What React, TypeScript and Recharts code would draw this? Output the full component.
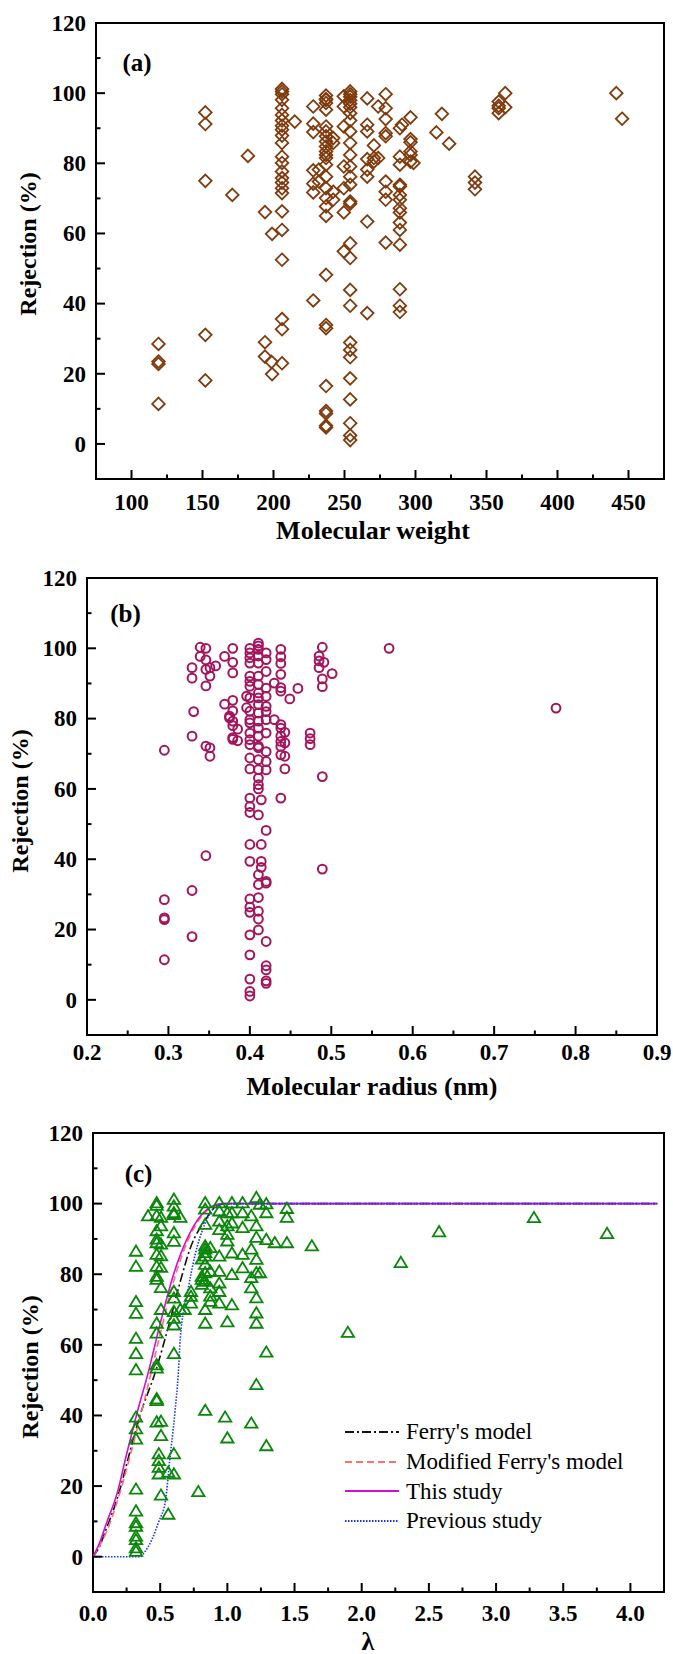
import { ComposedChart, Scatter, Line, XAxis, YAxis, ReferenceArea } from "recharts";

const FONT = '"Liberation Serif", "Times New Roman", serif';

// rejection axis, shared by the three panels
const rejDomain: [number, number] = [-10, 120];
const rejTicks = [0, 10, 20, 30, 40, 50, 60, 70, 80, 90, 100, 110, 120];
const rejMajors = [0, 20, 40, 60, 80, 100, 120];

// (a) molecular weight
const mwDomain: [number, number] = [75, 475];
const mwTicks = [100, 125, 150, 175, 200, 225, 250, 275, 300, 325, 350, 375, 400, 425, 450];
const mwMajors = [100, 150, 200, 250, 300, 350, 400, 450];
const mwRows: [number, number[]][] = [
  [119, [28.5, 23.5, 22.8, 11.4]],
  [152, [94.5, 91.2, 75.0, 31.1, 18.1]],
  [171, [71.0]],
  [182, [82.1]],
  [194, [66.1, 29.0, 24.9]],
  [198.6, [23.4]],
  [199, [59.9, 19.9]],
  [206, [101.2, 100.5, 99.7, 98.1, 95.7, 93.8, 92.2, 90.7, 89.6, 87.9, 85.8, 81.9, 80.1, 77.7, 75.8, 74.5, 72.9, 71.5, 66.3, 61.0, 52.5, 35.6, 32.7, 23.0]],
  [215, [91.9]],
  [228, [96.2, 91.3, 88.9, 78.0, 74.2, 71.7, 40.9]],
  [232, [78.2, 74.8]],
  [237, [99.3, 98.3, 98.1, 97.2, 95.3, 90.5, 89.1, 87.7, 86.2, 84.8, 83.4, 82.4, 81.5, 79.6, 76.2, 72.9, 70.1, 67.7, 65.0, 48.2, 33.9, 33.0, 16.5, 9.4, 8.7, 5.2, 4.7]],
  [242, [87.2, 85.8, 71.9, 69.6]],
  [249.5, [99.1, 96.2, 90.5, 79.1, 72.9, 66.0, 54.9]],
  [254, [100.5, 99.7, 99.0, 98.0, 97.0, 96.0, 94.3, 92.2, 89.1, 85.8, 82.4, 79.1, 76.2, 73.9, 69.1, 68.5, 57.2, 53.0, 43.9, 39.4, 28.9, 26.8, 24.7, 18.7, 12.7, 5.9, 2.4, 1.1]],
  [266, [98.5, 91.0, 89.1, 81.2, 78.2, 76.2, 63.4, 37.3]],
  [270.7, [85.1, 81.5, 80.5]],
  [273.7, [96.2, 81.5]],
  [279, [99.7, 95.7, 92.6, 88.6, 87.7, 74.8, 71.9, 69.6, 57.4]],
  [289, [90.0, 81.9, 79.6, 73.9, 73.4, 71.0, 69.6, 67.2, 66.0, 63.1, 61.0, 56.8, 44.1, 39.4, 37.6]],
  [290.5, [91.0]],
  [296.5, [93.1, 86.9, 86.0, 83.4, 82.4, 80.5]],
  [298.6, [80.1]],
  [314.7, [88.8]],
  [318.6, [94.1]],
  [323.7, [85.6]],
  [341.9, [76.2, 74.5, 72.6]],
  [358.6, [97.6, 96.4, 95.7, 94.3]],
  [363.2, [100.0, 96.0]],
  [441.4, [100.0]],
  [445.5, [92.7]],
];

// (b) molecular radius (nm)
const radDomain: [number, number] = [0.2, 0.9];
const radTicks = [0.2, 0.25, 0.3, 0.35, 0.4, 0.45, 0.5, 0.55, 0.6, 0.65, 0.7, 0.75, 0.8, 0.85, 0.9];
const radMajors = [0.2, 0.3, 0.4, 0.5, 0.6, 0.7, 0.8, 0.9];
const radRows: [number, number[]][] = [
  [0.295, [71.0, 28.5, 23.3, 22.8, 11.4]],
  [0.329, [94.5, 91.5, 75.0, 31.1, 18.0]],
  [0.331, [82.0]],
  [0.339, [100.3, 97.7]],
  [0.346, [100, 96.7, 94, 89.3, 72.2, 41.0]],
  [0.351, [94.5, 92.1, 71.7, 69.3]],
  [0.358, [95]],
  [0.369, [97.7, 84.1]],
  [0.375, [80.7, 80.2]],
  [0.379, [100, 96, 93, 85.2, 82.2, 79.3, 78, 74.6, 74.1]],
  [0.385, [77, 73.7]],
  [0.396, [86.4, 83.1]],
  [0.4, [100, 98.7, 97.3, 95.8, 92.1, 90.6, 89.2, 85.9, 82.1, 79.7, 78.8, 75.9, 74, 72.6, 68.8, 65.7, 57.4, 55.0, 53.3, 44.2, 39.4, 28.7, 26.4, 24.9, 18.5, 12.8, 5.9, 2.4, 1.1]],
  [0.4105, [101.5, 100.7, 99.7, 97.8, 95.8, 92.1, 89.7, 87.3, 85.9, 84, 81.6, 79.3, 77.3, 75, 72.2, 71.7, 68.3, 65.5, 63.1, 61.2, 60, 52.6, 35.6, 32.8, 29.1, 25.2, 23.0, 19.9]],
  [0.414, [56.9, 44.2, 39.4, 37.7]],
  [0.42, [98.7, 96.8, 93.4, 88.7, 86.3, 83.5, 82, 79.7, 75.9, 70.6, 67.8, 65.4, 48.2, 33.7, 33.2, 16.6, 9.7, 8.5, 5.4, 4.7]],
  [0.43, [90.1, 79.7]],
  [0.438, [99.7, 97.6, 95.7, 92.6, 88.8, 87.8, 78.3, 77.3, 75, 73.5, 72.1, 69.7, 57.4]],
  [0.443, [76.1, 73.1, 69.3, 65.7]],
  [0.449, [85.6]],
  [0.459, [88.6]],
  [0.474, [75.9, 74.3, 72.6]],
  [0.485, [97.8, 96.4, 94.5]],
  [0.489, [100.3, 91.3, 89.1, 63.5, 37.2]],
  [0.491, [96]],
  [0.501, [92.8]],
  [0.571, [100]],
  [0.776, [83]],
];

// (c) lambda
const lamDomain: [number, number] = [0, 4.25];
const lamTicks = [0, 0.25, 0.5, 0.75, 1, 1.25, 1.5, 1.75, 2, 2.25, 2.5, 2.75, 3, 3.25, 3.5, 3.75, 4];
const lamMajors = [0, 0.5, 1, 1.5, 2, 2.5, 3, 3.5, 4];
const lamRows: [number, number[]][] = [
  [0.32, [86.6, 82.3, 72.3, 69.0, 61.9, 57.6, 53.0, 39.6, 36.3, 33.4, 19.2, 13.0, 9.7, 8.7, 5.9, 4.9, 2.6, 1.6]],
  [0.41, [96.6]],
  [0.474, [100.3, 99.6, 96.7, 92.4, 90, 89, 85.7, 82.3, 79.5, 78.6, 66.2, 63.4, 54.4, 53.5, 44.8, 44.3, 38.2]],
  [0.49, [29.2, 27.3, 25.4, 23.5]],
  [0.506, [96.2, 93.8, 88.6, 85.3, 82, 76.3, 70.1, 38.4, 34.4, 17.5]],
  [0.56, [24, 12.1]],
  [0.602, [101.3, 99.4, 97.5, 97, 91.8, 89.4, 75.2, 73.3, 69.5, 67.6, 65.7, 57.6, 29.2, 23.5]],
  [0.65, [96.2, 70.1]],
  [0.682, [70.1]],
  [0.729, [75.2, 73.8, 71.9]],
  [0.784, [18.5]],
  [0.81, [84.4, 79.5, 78.6, 77.2]],
  [0.835, [100.3, 98.5, 94.2, 88.1, 87.2, 86.2, 85.2, 82.9, 80.5, 78.1, 70.1, 66.2, 41.5]],
  [0.873, [87.6, 80.9, 76.2, 73.9, 72.4]],
  [0.94, [100.3, 98, 95.1, 92.7, 85.2, 80.9, 77.6, 75.2, 71.9]],
  [0.983, [39.6]],
  [1.0, [97.5, 93.8, 91.4, 89.5, 66.6, 33.7]],
  [1.034, [100.3, 97.5, 94.6, 86.1, 80, 71.4]],
  [1.113, [100.3, 97.5, 93.3, 85.7, 81.9]],
  [1.178, [96.6, 87.2, 79.1, 76.2, 37.9]],
  [1.216, [101.8, 93.8, 90.5, 84.3, 80.5, 73.4, 69.1, 66.2, 48.8]],
  [1.242, [99.9, 80.5]],
  [1.29, [100, 97.5, 89.9, 58, 31.5]],
  [1.353, [89]],
  [1.443, [98.7, 96.2, 89]],
  [1.629, [88.1]],
  [1.897, [63.6]],
  [2.291, [83.4]],
  [2.576, [92.1]],
  [3.282, [96.1]],
  [3.826, [91.6]],
];

// model curves in (c)
const ferryCurve: [number, number][] = [
  [0, 0], [0.05, 3], [0.1, 8], [0.15, 13], [0.2, 19], [0.27, 29], [0.35, 40], [0.47, 53],
  [0.56, 65], [0.65, 78], [0.73, 88], [0.83, 95], [0.92, 99.3], [1.0, 100], [4.2, 100],
];
const modFerryCurve: [number, number][] = [
  [0, 0], [0.1, 7], [0.2, 18], [0.3, 32], [0.4, 47], [0.5, 63], [0.6, 78], [0.7, 89],
  [0.8, 96], [0.9, 99.3], [1.0, 100], [4.2, 100],
];
const thisStudyCurve: [number, number][] = [
  [0, 0], [0.05, 4], [0.1, 9.5], [0.18, 18], [0.25, 29], [0.33, 41], [0.41, 52], [0.5, 66],
  [0.6, 80], [0.7, 90], [0.8, 96.5], [0.9, 99.5], [0.97, 100], [4.2, 100],
];
const prevStudyCurve: [number, number][] = [
  [0, 0], [0.35, 0], [0.39, 1.6], [0.44, 5], [0.49, 10], [0.54, 16], [0.57, 27], [0.61, 41],
  [0.635, 52], [0.65, 62], [0.7, 74], [0.76, 85.5], [0.83, 94], [0.92, 99.4], [0.97, 100], [4.2, 100],
];

const toPoints = (rows: [number, number[]][]) => rows.flatMap(([x, ys]) => ys.map((y) => ({ x, y })));
const toLine = (pts: [number, number][]) => pts.map(([x, y]) => ({ x, y }));

const curves = [
  { name: "Ferry's model", data: ferryCurve, color: "#111111", dash: "9 3 2 3" },
  { name: "Modified Ferry's model", data: modFerryCurve, color: "#FF6F6F", dash: "7 4" },
  { name: "This study", data: thisStudyCurve, color: "#D010D0", dash: undefined },
  { name: "Previous study", data: prevStudyCurve, color: "#1530FF", dash: "1.5 1.5" },
];

const tickText = { fontFamily: FONT, fontSize: 23, fontWeight: 700, fill: "#000" };

// axes get 1px of room (recharts skips an axis of size 0); ticks are drawn inward
const xTick = (majors: number[], decimals: number, gap: number) => (p: any) => {
  const v = p.payload.value;
  const major = majors.includes(v);
  return (
    <g>
      <line x1={p.x} x2={p.x} y1={p.y} y2={p.y - (major ? 9 : 4.5)} stroke="#000" strokeWidth={2} />
      {major && (
        <text x={p.x} y={p.y + gap} dy="0.34em" textAnchor="middle" style={tickText}>{v.toFixed(decimals)}</text>
      )}
    </g>
  );
};

const yTick = (p: any) => {
  const v = p.payload.value;
  const major = rejMajors.includes(v);
  return (
    <g>
      <line x1={p.x} x2={p.x + (major ? 9 : 4.5)} y1={p.y} y2={p.y} stroke="#000" strokeWidth={2} />
      {major && (
        <text x={p.x - 10} y={p.y} dy="0.34em" textAnchor="end" style={tickText}>{v}</text>
      )}
    </g>
  );
};

const Diamond = (p: any) => (
  <path d={`M${p.cx},${p.cy - 6.3}L${p.cx + 6.3},${p.cy}L${p.cx},${p.cy + 6.3}L${p.cx - 6.3},${p.cy}Z`}
    fill="none" stroke="#7F3B0D" strokeWidth={1.8} />
);
const Ring = (p: any) => <circle cx={p.cx} cy={p.cy} r={4.4} fill="none" stroke="#A3145C" strokeWidth={2} />;
const Tri = (p: any) => (
  <path d={`M${p.cx},${p.cy - 5.5}L${p.cx + 6.2},${p.cy + 4.8}L${p.cx - 6.2},${p.cy + 4.8}Z`}
    fill="none" stroke="#0A870A" strokeWidth={1.8} />
);

interface PanelProps {
  top: number;
  height: number;
  margin: { top: number; right: number; bottom: number; left: number };
  xDomain: [number, number];
  xTicks: number[];
  xMajors: number[];
  decimals: number;
  labelGap: number;
  points: { x: number; y: number }[];
  shape: (p: any) => any;
  withCurves?: boolean;
}

function Panel({ top, height, margin, xDomain, xTicks, xMajors, decimals, labelGap, points, shape, withCurves }: PanelProps) {
  return (
    <div style={{ position: "absolute", left: 0, top }}>
      <ComposedChart width={673} height={height} margin={margin}>
        <XAxis type="number" dataKey="x" domain={xDomain} allowDataOverflow ticks={xTicks} interval={0}
          height={1} tickSize={0} tickMargin={0} axisLine={false} tickLine={false}
          tick={xTick(xMajors, decimals, labelGap)} />
        <YAxis type="number" dataKey="y" domain={rejDomain} allowDataOverflow ticks={rejTicks} interval={0}
          width={1} tickSize={0} tickMargin={0} axisLine={false} tickLine={false} tick={yTick} />
        <ReferenceArea x1={xDomain[0]} x2={xDomain[1]} y1={rejDomain[0]} y2={rejDomain[1]}
          fill="none" stroke="#000" strokeWidth={2} ifOverflow="visible" />
        <Scatter data={points} shape={shape} isAnimationActive={false} />
        {withCurves && curves.map((c) => (
          <Line key={c.name} name={c.name} data={toLine(c.data)} dataKey="y" type="monotone"
            stroke={c.color} strokeWidth={1.6} strokeDasharray={c.dash} dot={false} isAnimationActive={false} />
        ))}
      </ComposedChart>
    </div>
  );
}

const titleStyle = {
  position: "absolute" as const,
  fontFamily: FONT,
  fontWeight: 700,
  lineHeight: 1,
  whiteSpace: "nowrap" as const,
  color: "#000",
};

function Txt({ x, y, text, size = 25, rotate = false }: { x: number; y: number; text: string; size?: number; rotate?: boolean }) {
  return (
    <div style={{ ...titleStyle, fontSize: size, left: x, top: y, transform: `translate(-50%, -50%)${rotate ? " rotate(-90deg)" : ""}` }}>
      {text}
    </div>
  );
}

function CurveLegend() {
  return (
    <div style={{ position: "absolute", left: 345, top: 1417 }}>
      {curves.map((c) => (
        <div key={c.name} style={{ display: "flex", alignItems: "center", height: 29.7 }}>
          <svg width={55} height={6} style={{ display: "block" }}>
            <line x1={0} x2={54} y1={3} y2={3} stroke={c.color} strokeWidth={1.8} strokeDasharray={c.dash} />
          </svg>
          <span style={{ marginLeft: 6, fontFamily: FONT, fontSize: 23, lineHeight: 1, color: "#000", whiteSpace: "nowrap" }}>
            {c.name}
          </span>
        </div>
      ))}
    </div>
  );
}

export default function App() {
  return (
    <div style={{ position: "absolute", left: 0, top: 0, width: 673, height: 1654, background: "#fff" }}>
      <Panel top={0} height={560} margin={{ top: 23, right: 9, bottom: 80, left: 95 }}
        xDomain={mwDomain} xTicks={mwTicks} xMajors={mwMajors} decimals={0} labelGap={23}
        points={toPoints(mwRows)} shape={Diamond} />
      <Panel top={560} height={560} margin={{ top: 18, right: 16, bottom: 84, left: 86 }}
        xDomain={radDomain} xTicks={radTicks} xMajors={radMajors} decimals={1} labelGap={17}
        points={toPoints(radRows)} shape={Ring} />
      <Panel top={1120} height={534} margin={{ top: 13, right: 9, bottom: 61, left: 92 }}
        xDomain={lamDomain} xTicks={lamTicks} xMajors={lamMajors} decimals={1} labelGap={21}
        points={toPoints(lamRows)} shape={Tri} withCurves />

      <Txt x={137} y={61.5} text="(a)" />
      <Txt x={125.5} y={612.5} text="(b)" />
      <Txt x={138.5} y={1173} text="(c)" />

      <Txt x={373} y={531} text="Molecular weight" size={26} />
      <Txt x={372} y={1087} text="Molecular radius (nm)" size={26} />
      <Txt x={368} y={1642} text="λ" size={26} />

      <Txt x={28} y={244} text="Rejection (%)" size={24} rotate />
      <Txt x={19.5} y={801} text="Rejection (%)" size={24} rotate />
      <Txt x={30} y={1367} text="Rejection (%)" size={24} rotate />

      <CurveLegend />
    </div>
  );
}
